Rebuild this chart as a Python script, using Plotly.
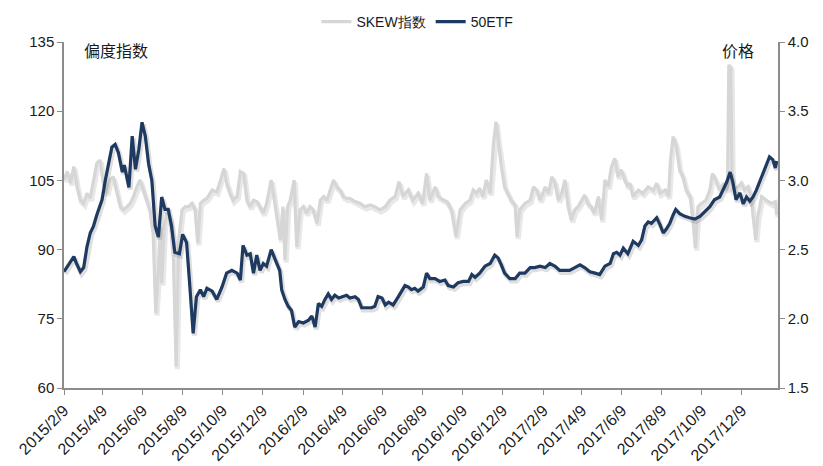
import pandas as pd
import plotly.graph_objects as go

# ---------------- data ----------------
skew_dates = [
    "2015-02-09","2015-02-14","2015-02-19","2015-02-24","2015-03-01","2015-03-06","2015-03-11","2015-03-16","2015-03-21","2015-03-26",
    "2015-03-31","2015-04-05","2015-04-10","2015-04-15","2015-04-20","2015-04-25","2015-05-01","2015-05-06","2015-05-11","2015-05-16",
    "2015-05-21","2015-05-26","2015-05-31","2015-06-05","2015-06-10","2015-06-15","2015-06-20","2015-06-25","2015-06-29","2015-07-03",
    "2015-07-06","2015-07-08","2015-07-12","2015-07-16","2015-07-21","2015-07-26","2015-07-30","2015-08-03","2015-08-08","2015-08-13",
    "2015-08-18","2015-08-23","2015-08-28","2015-09-01","2015-09-05","2015-09-10","2015-09-15","2015-09-23","2015-09-30","2015-10-05",
    "2015-10-11","2015-10-15","2015-10-20","2015-10-25","2015-10-31","2015-11-05","2015-11-10","2015-11-15","2015-11-20","2015-11-25",
    "2015-11-30","2015-12-05","2015-12-10","2015-12-15","2015-12-22","2015-12-26","2015-12-31","2016-01-05","2016-01-09","2016-01-12",
    "2016-01-16","2016-01-20","2016-01-26","2016-01-30","2016-02-04","2016-02-09","2016-02-14","2016-02-19","2016-02-24","2016-03-01",
    "2016-03-06","2016-03-11","2016-03-16","2016-03-21","2016-03-26","2016-03-31","2016-04-05","2016-04-10","2016-04-15","2016-04-20",
    "2016-04-28","2016-05-06","2016-05-13","2016-05-21","2016-05-28","2016-06-05","2016-06-13","2016-06-20","2016-06-28","2016-07-04",
    "2016-07-10","2016-07-18","2016-07-25","2016-08-02","2016-08-09","2016-08-15","2016-08-20","2016-08-28","2016-09-02","2016-09-10",
    "2016-09-15","2016-09-22","2016-09-29","2016-10-05","2016-10-13","2016-10-20","2016-10-25","2016-10-30","2016-11-04","2016-11-09",
    "2016-11-14","2016-11-20","2016-11-25","2016-11-29","2016-12-02","2016-12-07","2016-12-12","2016-12-17","2016-12-22","2016-12-28",
    "2016-12-31","2017-01-04","2017-01-12","2017-01-20","2017-01-25","2017-01-30","2017-02-04","2017-02-12","2017-02-17","2017-02-22",
    "2017-02-27","2017-03-04","2017-03-09","2017-03-14","2017-03-19","2017-03-24","2017-03-29","2017-04-03","2017-04-08","2017-04-13",
    "2017-04-18","2017-04-23","2017-04-28","2017-05-04","2017-05-09","2017-05-14","2017-05-19","2017-05-24","2017-05-29","2017-06-03",
    "2017-06-08","2017-06-13","2017-06-18","2017-06-21","2017-06-26","2017-07-04","2017-07-11","2017-07-19","2017-07-27","2017-08-01",
    "2017-08-06","2017-08-14","2017-08-19","2017-08-22","2017-08-26","2017-08-31","2017-09-05","2017-09-10","2017-09-15","2017-09-21",
    "2017-09-26","2017-09-29","2017-10-03","2017-10-08","2017-10-15","2017-10-21","2017-10-25","2017-10-30","2017-11-05","2017-11-11",
    "2017-11-17","2017-11-19","2017-11-22","2017-11-24","2017-12-03","2017-12-08","2017-12-13","2017-12-18","2017-12-23","2017-12-27",
    "2017-12-30","2018-01-02","2018-01-08","2018-01-15","2018-01-23","2018-01-29","2018-01-31",
]
skew_values = [
    105.1,106.9,104.4,108.0,103.6,100.7,100.0,102.2,101.1,105.1,
    108.7,109.4,104.4,102.2,105.1,105.8,102.2,99.3,98.6,99.3,
    100.0,101.5,103.6,105.1,102.9,100.7,98.6,93.5,76.2,85.6,
    95.0,82.7,95.0,97.9,96.4,87.7,64.6,92.1,98.6,99.3,
    99.3,100.0,98.6,91.4,100.0,100.7,101.1,102.9,102.5,104.7,
    107.6,104.4,102.2,100.7,101.5,106.9,106.5,100.7,99.3,100.7,
    100.4,99.3,97.9,100.0,105.1,101.5,97.1,92.1,99.3,87.7,
    99.3,100.7,105.1,90.6,98.6,99.3,97.9,99.3,98.6,95.7,
    100.7,101.5,100.7,102.9,105.1,103.6,102.9,101.5,101.1,101.1,
    100.4,100.0,99.3,99.7,99.3,98.6,99.3,100.7,101.5,104.7,
    101.5,102.9,100.7,102.2,100.0,106.5,100.7,103.6,101.5,100.7,
    100.4,98.6,92.8,98.6,100.0,100.7,102.9,102.2,103.3,101.5,
    105.1,102.2,113.0,117.7,113.8,108.0,103.6,102.2,100.7,99.7,
    92.8,98.6,100.0,100.7,103.6,102.9,100.7,103.6,102.2,105.8,
    104.4,100.7,102.2,105.1,99.3,96.4,98.6,99.3,100.7,101.8,
    100.0,99.3,97.9,101.5,96.4,105.1,103.6,108.0,109.8,105.8,
    107.3,105.1,103.6,104.4,101.5,102.9,102.2,103.6,102.9,104.4,
    102.2,102.9,101.5,109.4,114.5,112.3,107.3,105.8,102.9,101.5,
    95.7,90.3,99.3,100.0,100.7,102.9,106.5,105.1,102.9,104.4,
    102.9,130.0,129.5,103.0,103.6,104.4,102.9,103.6,101.5,95.7,
    92.1,97.1,101.5,100.7,100.0,100.4,97.5,
]

etf_dates = [
    "2015-02-09","2015-02-17","2015-02-24","2015-02-28","2015-03-06","2015-03-11","2015-03-16","2015-03-21","2015-03-26","2015-03-31",
    "2015-04-08","2015-04-13","2015-04-18","2015-04-23","2015-04-28","2015-05-03","2015-05-09","2015-05-12","2015-05-19","2015-05-24",
    "2015-05-29","2015-06-03","2015-06-08","2015-06-13","2015-06-18","2015-06-23","2015-06-28","2015-07-03","2015-07-08","2015-07-13",
    "2015-07-18","2015-07-23","2015-07-28","2015-08-04","2015-08-09","2015-08-15","2015-08-20","2015-08-25","2015-08-30","2015-09-05",
    "2015-09-10","2015-09-15","2015-09-23","2015-09-30","2015-10-08","2015-10-15","2015-10-23","2015-10-31","2015-11-05","2015-11-09",
    "2015-11-15","2015-11-20","2015-11-25","2015-11-30","2015-12-05","2015-12-10","2015-12-15","2015-12-22","2015-12-28","2016-01-04",
    "2016-01-07","2016-01-12","2016-01-17","2016-01-22","2016-01-27","2016-02-02","2016-02-09","2016-02-17","2016-02-22","2016-02-27",
    "2016-03-03","2016-03-08","2016-03-13","2016-03-18","2016-03-23","2016-03-28","2016-04-03","2016-04-08","2016-04-15","2016-04-20",
    "2016-04-28","2016-05-03","2016-05-08","2016-05-16","2016-05-23","2016-05-28","2016-06-02","2016-06-08","2016-06-13","2016-06-18",
    "2016-06-25","2016-07-03","2016-07-08","2016-07-13","2016-07-18","2016-07-23","2016-07-28","2016-08-02","2016-08-10","2016-08-15",
    "2016-08-20","2016-08-28","2016-09-04","2016-09-12","2016-09-17","2016-09-25","2016-10-02","2016-10-10","2016-10-18","2016-10-23",
    "2016-10-28","2016-11-04","2016-11-12","2016-11-20","2016-11-27","2016-12-02","2016-12-07","2016-12-12","2016-12-20","2016-12-28",
    "2017-01-04","2017-01-12","2017-01-20","2017-01-27","2017-02-04","2017-02-12","2017-02-19","2017-02-27","2017-03-06","2017-03-14",
    "2017-03-21","2017-03-29","2017-04-06","2017-04-13","2017-04-21","2017-04-29","2017-05-06","2017-05-14","2017-05-22","2017-05-27",
    "2017-06-01","2017-06-06","2017-06-11","2017-06-18","2017-06-26","2017-07-04","2017-07-09","2017-07-14","2017-07-19","2017-07-24",
    "2017-08-01","2017-08-06","2017-08-11","2017-08-16","2017-08-21","2017-08-26","2017-08-30","2017-09-05","2017-09-13","2017-09-20",
    "2017-09-28","2017-10-06","2017-10-13","2017-10-21","2017-10-28","2017-11-05","2017-11-10","2017-11-16","2017-11-21","2017-11-25",
    "2017-11-30","2017-12-06","2017-12-11","2017-12-16","2017-12-21","2017-12-26","2017-12-31","2018-01-05","2018-01-10","2018-01-15",
    "2018-01-20","2018-01-25","2018-01-29","2018-01-31",
]
etf_values = [
    2.34,2.40,2.45,2.40,2.34,2.37,2.52,2.62,2.67,2.75,
    2.86,3.00,3.135,3.24,3.26,3.20,3.06,3.11,2.95,3.32,
    3.08,3.22,3.42,3.32,3.12,3.00,2.67,2.59,2.88,2.79,
    2.79,2.67,2.48,2.47,2.61,2.55,2.23,1.895,2.16,2.21,
    2.16,2.22,2.20,2.14,2.23,2.33,2.35,2.33,2.28,2.53,
    2.46,2.47,2.33,2.46,2.35,2.40,2.38,2.50,2.43,2.35,
    2.21,2.14,2.09,2.06,1.94,1.98,1.97,1.99,2.02,1.94,
    2.11,2.09,2.14,2.18,2.14,2.17,2.15,2.16,2.17,2.15,
    2.16,2.14,2.08,2.08,2.08,2.09,2.16,2.15,2.10,2.12,
    2.10,2.16,2.20,2.24,2.23,2.21,2.22,2.20,2.23,2.33,
    2.29,2.29,2.27,2.28,2.24,2.23,2.26,2.27,2.27,2.32,
    2.30,2.33,2.38,2.40,2.46,2.44,2.39,2.33,2.29,2.29,
    2.33,2.33,2.37,2.37,2.38,2.37,2.40,2.38,2.35,2.35,
    2.35,2.37,2.39,2.37,2.34,2.33,2.32,2.38,2.40,2.47,
    2.48,2.46,2.51,2.47,2.56,2.53,2.57,2.67,2.70,2.69,
    2.73,2.68,2.62,2.65,2.69,2.75,2.79,2.76,2.74,2.73,
    2.72,2.74,2.77,2.81,2.86,2.88,2.93,2.99,3.06,2.99,
    2.86,2.91,2.83,2.88,2.85,2.88,2.93,2.99,3.05,3.11,
    3.17,3.15,3.09,3.14,
]

x_tick_dates = [
    "2015-02-09","2015-04-09","2015-06-09","2015-08-09","2015-10-09","2015-12-09",
    "2016-02-09","2016-04-09","2016-06-09","2016-08-09","2016-10-09","2016-12-09",
    "2017-02-09","2017-04-09","2017-06-09","2017-08-09","2017-10-09","2017-12-09",
]
x_tick_labels = [
    "2015/2/9","2015/4/9","2015/6/9","2015/8/9","2015/10/9","2015/12/9",
    "2016/2/9","2016/4/9","2016/6/9","2016/8/9","2016/10/9","2016/12/9",
    "2017/2/9","2017/4/9","2017/6/9","2017/8/9","2017/10/9","2017/12/9",
]
left_ticks = [60, 75, 90, 105, 120, 135]
right_ticks = [1.5, 2.0, 2.5, 3.0, 3.5, 4.0]
right_tick_labels = ["1.5", "2.0", "2.5", "3.0", "3.5", "4.0"]

# ---------------- styling ----------------
GREY = "#d6d6d6"
NAVY = "#1f3a60"
AXIS = "#8c8c8c"
TXT = "#1a1a1a"
FONT = "Liberation Sans, Arial, sans-serif"
CJK = "Noto Sans CJK SC, sans-serif"

skew_x = pd.to_datetime(skew_dates)
etf_x = pd.to_datetime(etf_dates)
shift = pd.Timedelta(days=2)

fig = go.Figure()
# soft drop shadows (derived from the same data)
fig.add_trace(go.Scatter(x=skew_x + shift, y=[v - 0.5 for v in skew_values], mode="lines",
                         line=dict(color="rgba(110,110,110,0.16)", width=5), showlegend=False,
                         hoverinfo="skip", yaxis="y"))
fig.add_trace(go.Scatter(x=skew_x, y=skew_values, mode="lines", name="SKEW指数",
                         line=dict(color=GREY, width=3.2), yaxis="y"))
fig.add_trace(go.Scatter(x=etf_x + shift, y=[v - 0.016 for v in etf_values], mode="lines",
                         line=dict(color="rgba(90,90,90,0.2)", width=5), showlegend=False,
                         hoverinfo="skip", yaxis="y2"))
fig.add_trace(go.Scatter(x=etf_x, y=etf_values, mode="lines", name="50ETF",
                         line=dict(color=NAVY, width=3.2), yaxis="y2"))

fig.update_layout(
    width=823, height=466,
    margin=dict(l=64, r=45, t=42, b=78, autoexpand=False),
    paper_bgcolor="white", plot_bgcolor="white",
    showlegend=True,
    legend=dict(orientation="h", x=0.495, xanchor="center", y=1.058, yanchor="middle",
                font=dict(family=FONT, size=14, color=TXT), itemwidth=30,
                bgcolor="rgba(0,0,0,0)", traceorder="normal"),
    hovermode=False,
    xaxis=dict(
        type="date", range=["2015-02-09", "2018-02-02"], automargin=False,
        tickmode="array", tickvals=x_tick_dates, ticktext=x_tick_labels,
        tickangle=-45, ticks="outside", ticklen=5, tickcolor=AXIS,
        showline=True, linecolor=AXIS, linewidth=1.5, showgrid=False, zeroline=False,
        tickfont=dict(family=FONT, size=16, color=TXT),
    ),
    yaxis=dict(
        range=[60, 135], tickmode="array", tickvals=left_ticks, automargin=False,
        ticks="outside", ticklen=5, tickcolor=AXIS,
        showline=True, linecolor=AXIS, linewidth=1.5, showgrid=False, zeroline=False,
        tickfont=dict(family=FONT, size=15, color=TXT),
    ),
    yaxis2=dict(
        range=[1.5, 4.0], overlaying="y", side="right", tickmode="array", automargin=False,
        tickvals=right_ticks, ticktext=right_tick_labels,
        ticks="outside", ticklen=5, tickcolor=AXIS,
        showline=True, linecolor=AXIS, linewidth=1.5, showgrid=False, zeroline=False,
        tickfont=dict(family=FONT, size=15, color=TXT),
    ),
    annotations=[
        dict(text="偏度指数", xref="paper", yref="paper", x=0.025, y=0.977,
             xanchor="left", yanchor="middle", showarrow=False,
             font=dict(family=CJK, size=16, color=TXT)),
        dict(text="价格", xref="paper", yref="paper", x=0.969, y=0.977,
             xanchor="right", yanchor="middle", showarrow=False,
             font=dict(family=CJK, size=16, color=TXT)),
    ],
)

fig.write_html("out.html")
